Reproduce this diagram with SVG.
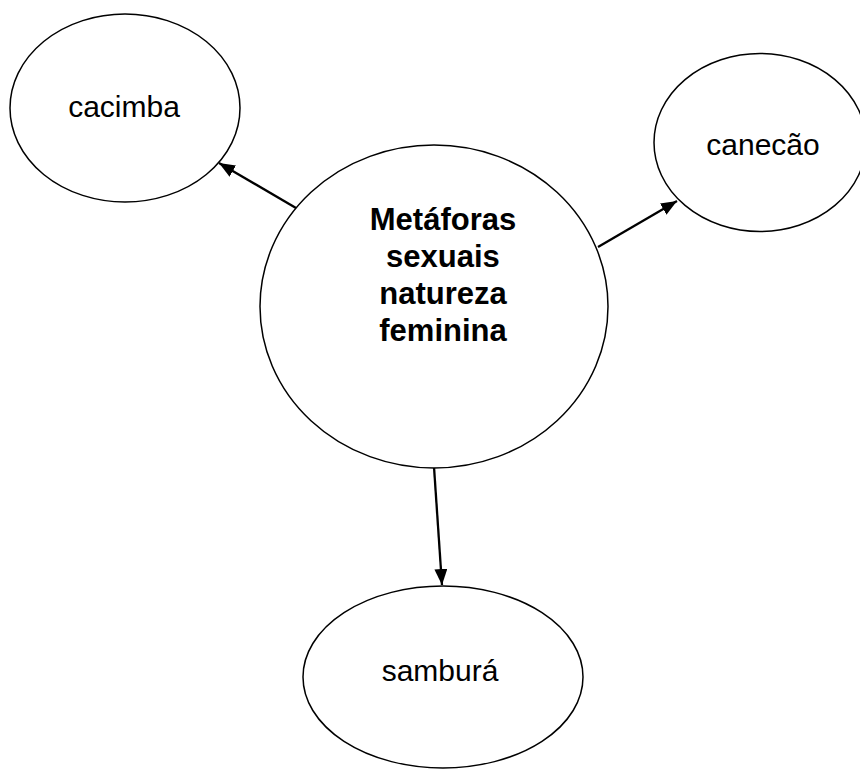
<svg xmlns="http://www.w3.org/2000/svg" width="860" height="769" viewBox="0 0 860 769">
  <style>
    .node { fill: #ffffff; stroke: #000000; stroke-width: 1.5; }
    .label { font-family: "Liberation Sans", Arial, sans-serif; font-size: 30px; fill: #000000; text-anchor: middle; }
    .bold { font-weight: bold; font-size: 31px; }
    .edge { stroke: #000000; stroke-width: 2.3; fill: none; marker-end: url(#arrow); }
  </style>
  <defs>
    <marker id="arrow" markerUnits="userSpaceOnUse" markerWidth="17" markerHeight="14" refX="16" refY="6.5" orient="auto">
      <path d="M0,0 L16,6.5 L0,13 Z" fill="#000000"/>
    </marker>
  </defs>
  <rect width="860" height="769" fill="#ffffff"/>

  <g id="connectors">
    <line class="edge" x1="296" y1="208" x2="219" y2="163"/>
    <line class="edge" x1="598" y1="247" x2="677" y2="201"/>
    <line class="edge" x1="434" y1="467" x2="442" y2="585"/>
  </g>

  <g id="node-central">
    <ellipse class="node" cx="434" cy="306.5" rx="174" ry="161.5"/>
    <text class="label bold" x="443" y="230">Metáforas</text>
    <text class="label bold" x="443" y="267">sexuais</text>
    <text class="label bold" x="443" y="304">natureza</text>
    <text class="label bold" x="443" y="341">feminina</text>
  </g>

  <g id="node-cacimba">
    <ellipse class="node" cx="125" cy="108" rx="115" ry="94"/>
    <text class="label" x="124" y="117">cacimba</text>
  </g>

  <g id="node-canecao">
    <ellipse class="node" cx="760" cy="142.5" rx="106" ry="89"/>
    <text class="label" x="763" y="155">canecão</text>
  </g>

  <g id="node-sambura">
    <ellipse class="node" cx="443" cy="677" rx="140" ry="91"/>
    <text class="label" x="440" y="681">samburá</text>
  </g>
</svg>
